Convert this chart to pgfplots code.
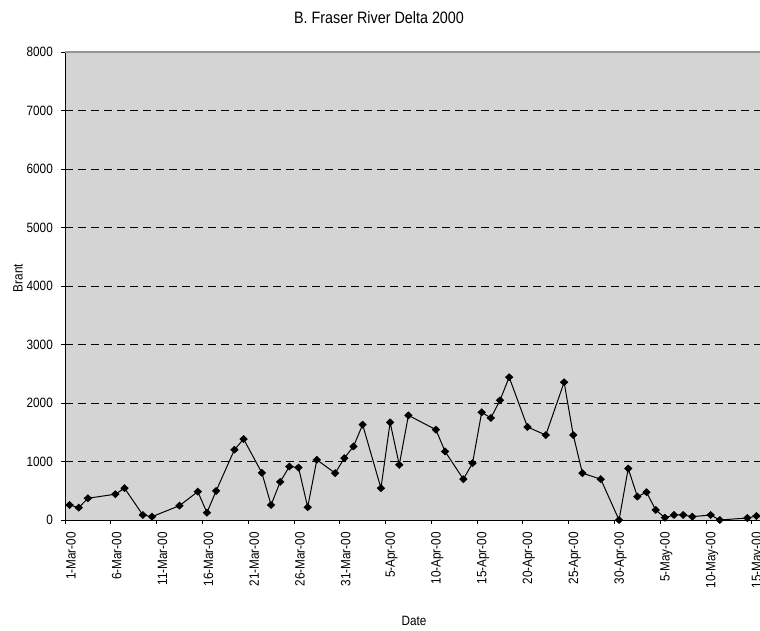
\documentclass[border=0pt]{standalone}
\usepackage{fontspec}
\setmainfont{Liberation Sans}[FakeStretch=0.87]
\usepackage{pgfplots}
\pgfplotsset{compat=1.18}
\definecolor{plotgray}{RGB}{212,212,212}
\definecolor{framegray}{RGB}{150,150,150}

% day index from 1-Mar-00, points sit mid-day (+0.5)
\pgfplotstableread{
day brant
0.5 257
1.5 211
2.5 372
5.5 441
6.5 544
8.5 86
9.5 57
12.5 245
14.5 485
15.5 125
16.5 497
18.5 1201
19.5 1384
21.5 806
22.5 257
23.5 652
24.5 914
25.5 897
26.5 218
27.5 1029
29.5 801
30.5 1058
31.5 1257
32.5 1630
34.5 544
35.5 1669
36.5 943
37.5 1789
40.5 1544
41.5 1172
43.5 698
44.5 972
45.5 1841
46.5 1744
47.5 2046
48.5 2441
50.5 1590
52.5 1452
54.5 2355
55.5 1452
56.5 801
58.5 698
60.5 0
61.5 880
62.5 400
63.5 475
64.5 172
65.5 40
66.5 86
67.5 86
68.5 57
70.5 86
71.5 0
74.5 34
75.5 69
}\brant

\begin{document}
\begin{tikzpicture}[font=\fontsize{13.5}{16}\selectfont]
\begin{axis}[
  name=a, at={(0,0)}, anchor=south west,
  scale only axis, width=696pt, height=468pt,
  xmin=0, xmax=76, ymin=0, ymax=8000,
  axis x line*=bottom, axis y line*=left,
  axis line style={-, black, line width=0.9pt},
  axis background/.style={fill=plotgray},
  xtick={0,5,...,75},
  xticklabels={1-Mar-00,6-Mar-00,11-Mar-00,16-Mar-00,21-Mar-00,26-Mar-00,31-Mar-00,5-Apr-00,10-Apr-00,15-Apr-00,20-Apr-00,25-Apr-00,30-Apr-00,5-May-00,10-May-00,15-May-00},
  xticklabel style={xshift=6pt, yshift=-8pt, rotate=90, anchor=east, inner sep=0pt},
  ytick={0,1000,...,8000},
  yticklabels={0,1000,2000,3000,4000,5000,6000,7000,8000},
  yticklabel style={inner sep=0pt, xshift=-8pt},
  tick align=outside, major tick length=4pt,
  tick style={black, line width=0.8pt},
  ymajorgrids,
  major grid style={black, line width=0.8pt, dash pattern=on 8pt off 5pt},
  after end axis/.code={
    \draw[framegray, line width=1.4pt] (rel axis cs:0,1) -- (rel axis cs:1,1);
  },
]
\addplot[black, line width=1pt, mark=diamond*, mark size=3.3pt,
  mark options={xscale=1.4, fill=black, solid}] table[x=day, y=brant] {\brant};
\end{axis}
\node[font=\fontsize{16.5}{19}\selectfont] at (314pt,502pt) {B. Fraser River Delta 2000};
\node at (349pt,-101pt) {Date};
\node[rotate=90] at (-47pt,242pt) {Brant};
\pgfresetboundingbox
\path[use as bounding box] (-65pt,-110pt) rectangle (695pt,520pt);
\end{tikzpicture}
\end{document}
